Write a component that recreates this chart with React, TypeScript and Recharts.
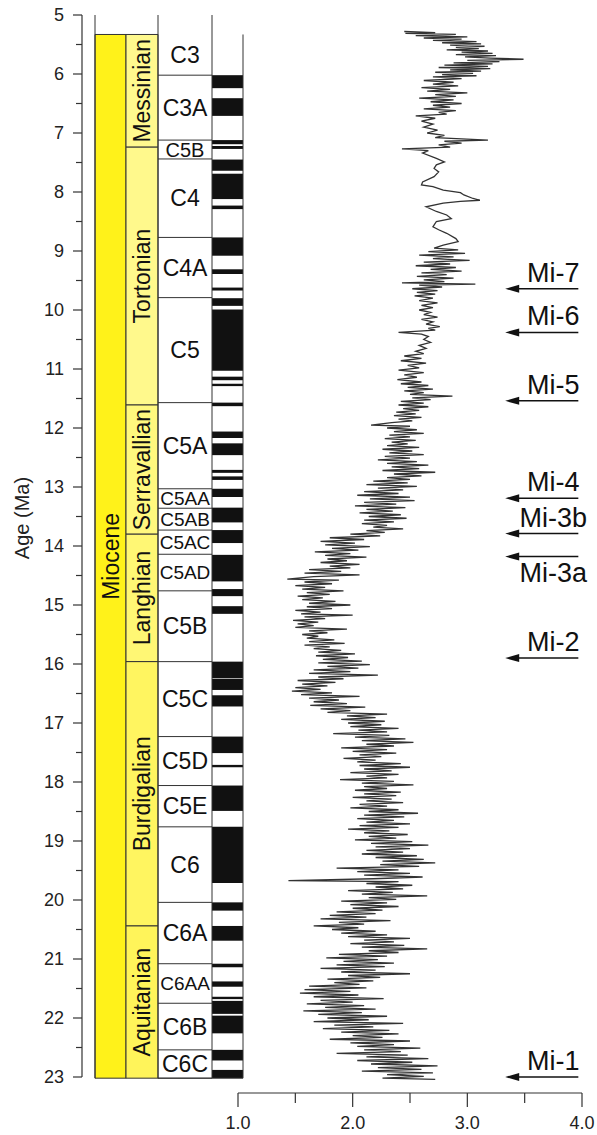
import React from "react";
import { ScatterChart, Scatter, XAxis, YAxis, ReferenceArea, ReferenceLine, Label } from "recharts";

const FONT = "'Liberation Sans', Arial, sans-serif";
const W = 597;
const H = 1135;

// ---- axes ----
const AGE_MIN = 5;
const AGE_MAX = 23;
const ageTicks = [
  5, 5.5, 6, 6.5, 7, 7.5, 8, 8.5, 9, 9.5, 10, 10.5, 11, 11.5, 12, 12.5, 13,
  13.5, 14, 14.5, 15, 15.5, 16, 16.5, 17, 17.5, 18, 18.5, 19, 19.5, 20, 20.5,
  21, 21.5, 22, 22.5, 23,
];
const D18O_MIN = 1;
const D18O_MAX = 4;
const d18oTicks = [1, 1.5, 2, 2.5, 3, 3.5, 4];

// ---- stratigraphy ----
const epochName = "Miocene";
const epochRange = [5.33, 23.02];

const stageNames = ["Messinian", "Tortonian", "Serravallian", "Langhian", "Burdigalian", "Aquitanian"];
const stageBounds = [5.33, 7.24, 11.61, 13.8, 15.96, 20.44, 23.02];
const stageColors = ["#fff98e", "#fff98c", "#fff87e", "#fff774", "#fff560", "#fff45a"];

const chronNames = [
  "C3", "C3A", "C5B", "C4", "C4A", "C5", "C5A", "C5AA", "C5AB", "C5AC", "C5AD",
  "C5B", "C5C", "C5D", "C5E", "C6", "C6A", "C6AA", "C6B", "C6C",
];
const chronBounds = [
  5.33, 6.02, 7.12, 7.44, 8.77, 9.79, 11.57, 13.03, 13.36, 13.73, 14.14, 14.76,
  15.96, 17.23, 18.06, 18.76, 20.04, 21.08, 21.75, 22.54, 23.02,
];
const smallChrons = ["C5AA", "C5AB", "C5AC", "C5AD", "C6AA"];

// normal polarity (black) intervals, Ma
const normalPolarity: [number, number][] = [
  [6.02, 6.24], [6.41, 6.71], [7.12, 7.19], [7.22, 7.27], [7.45, 7.64], [7.69, 8.12],
  [8.23, 8.29], [8.77, 9.08], [9.31, 9.39], [9.62, 9.67], [9.8, 9.93], [9.99, 11.03],
  [11.13, 11.19], [11.25, 11.29], [11.57, 11.63], [12.06, 12.17], [12.26, 12.46],
  [12.71, 12.76], [12.82, 12.88], [13.03, 13.17], [13.35, 13.6], [13.73, 13.95],
  [14.15, 14.6], [14.73, 14.85], [15.02, 15.15], [15.96, 16.24], [16.25, 16.44],
  [16.53, 16.72], [17.23, 17.51], [17.71, 17.75], [18.06, 18.49], [18.76, 19.71],
  [20.04, 20.18], [20.44, 20.69], [21.08, 21.14], [21.38, 21.47], [21.64, 21.68],
  [21.71, 21.93], [21.96, 22.26], [22.54, 22.72], [22.88, 23.02],
];

// ---- glaciation events ----
const miNames = ["Mi-7", "Mi-6", "Mi-5", "Mi-4", "Mi-3b", "Mi-3a", "Mi-2", "Mi-1"];
const miAges = [9.64, 10.38, 11.54, 13.19, 13.79, 14.18, 15.9, 23.0];
const labelsBelow = ["Mi-3a"];

// ---- benthic d18O record [age Ma, d18O permil] ----
const messinianCurve: [number, number][] = [
  [5.28, 2.45], [5.3, 2.72], [5.31, 2.46], [5.33, 2.9], [5.35, 2.55], [5.37, 3.0], [5.39, 2.62],
  [5.41, 2.95], [5.43, 2.7], [5.45, 3.08], [5.47, 2.78], [5.49, 3.12], [5.51, 2.85], [5.53, 3.15],
  [5.55, 2.9], [5.57, 3.1], [5.59, 2.82], [5.61, 3.18], [5.63, 2.95], [5.65, 3.22], [5.67, 2.9],
  [5.69, 3.25], [5.71, 2.98], [5.73, 3.2], [5.75, 3.49], [5.77, 3.0], [5.79, 3.28], [5.81, 2.88],
  [5.83, 3.22], [5.85, 2.8], [5.87, 3.18], [5.89, 2.75], [5.91, 3.2], [5.93, 2.85], [5.95, 3.12],
  [5.97, 2.72], [5.99, 3.05], [6.01, 2.78], [6.03, 3.08], [6.05, 2.7], [6.08, 2.95], [6.11, 2.62],
  [6.14, 2.88], [6.17, 2.7], [6.2, 2.92], [6.23, 2.6], [6.26, 2.85], [6.29, 2.65], [6.32, 3.0],
  [6.35, 2.72], [6.38, 2.9], [6.41, 2.58], [6.44, 2.88], [6.47, 2.68], [6.5, 2.95], [6.53, 2.7],
  [6.56, 2.85], [6.59, 2.62], [6.62, 2.9], [6.65, 2.75], [6.68, 2.82], [6.71, 2.55], [6.75, 2.72],
  [6.8, 2.6], [6.85, 2.7], [6.9, 2.62], [6.95, 2.74], [7.0, 2.65], [7.04, 2.8], [7.08, 2.72],
  [7.12, 3.18], [7.14, 2.8], [7.17, 2.95], [7.2, 2.75], [7.24, 2.85],
];

const tortonianCurve: [number, number][] = [
  [7.27, 2.43], [7.3, 2.66], [7.34, 2.61], [7.43, 2.73], [7.49, 2.8], [7.54, 2.73], [7.6, 2.71],
  [7.66, 2.75], [7.74, 2.71], [7.83, 2.61], [7.88, 2.6], [7.91, 2.7], [7.97, 2.79], [8.01, 2.94],
  [8.05, 2.97], [8.11, 3.05], [8.14, 3.11], [8.16, 2.94], [8.19, 2.79], [8.25, 2.64], [8.33, 2.73],
  [8.39, 2.82], [8.45, 2.86], [8.5, 2.73], [8.59, 2.7], [8.64, 2.75], [8.7, 2.82], [8.79, 2.9],
  [8.84, 2.92], [8.9, 2.79], [8.95, 2.71], [8.98, 2.92], [9.01, 2.66], [9.04, 2.98], [9.07, 2.58],
  [9.1, 2.88], [9.13, 2.7], [9.16, 3.02], [9.19, 2.62], [9.22, 2.85], [9.25, 2.55], [9.28, 2.9],
  [9.31, 2.68], [9.34, 2.95], [9.37, 2.6], [9.4, 2.82], [9.43, 2.56], [9.46, 2.88], [9.49, 2.62],
  [9.52, 2.8], [9.54, 2.43], [9.56, 3.07], [9.58, 2.58], [9.61, 2.78], [9.64, 2.52], [9.67, 2.74],
  [9.7, 2.56], [9.73, 2.72], [9.76, 2.54], [9.8, 2.7], [9.84, 2.58], [9.88, 2.74], [9.92, 2.6],
  [9.96, 2.7], [10.0, 2.58], [10.04, 2.68], [10.08, 2.62], [10.12, 2.74], [10.16, 2.6], [10.2, 2.7],
  [10.24, 2.64], [10.28, 2.76], [10.31, 2.66], [10.34, 2.72], [10.38, 2.4], [10.41, 2.6],
  [10.45, 2.66], [10.5, 2.62], [10.55, 2.68], [10.6, 2.58], [10.65, 2.64], [10.7, 2.55],
  [10.74, 2.62], [10.78, 2.45], [10.82, 2.6], [10.86, 2.42], [10.9, 2.64], [10.94, 2.48],
  [10.98, 2.58], [11.02, 2.4], [11.06, 2.62], [11.1, 2.45], [11.14, 2.56], [11.18, 2.39],
  [11.22, 2.6], [11.25, 2.42], [11.28, 2.66], [11.31, 2.48], [11.34, 2.7], [11.37, 2.45],
  [11.4, 2.62], [11.43, 2.5], [11.46, 2.87], [11.49, 2.52], [11.52, 2.68], [11.55, 2.42], [11.58, 2.62],
];

const serravallianCurve: [number, number][] = [
  [11.61, 2.4], [11.64, 2.66], [11.67, 2.44], [11.7, 2.58], [11.73, 2.38], [11.76, 2.55],
  [11.79, 2.36], [11.82, 2.6], [11.85, 2.4], [11.88, 2.52], [11.91, 2.34], [11.95, 2.16],
  [11.97, 2.5], [12.0, 2.3], [12.03, 2.56], [12.06, 2.36], [12.09, 2.62], [12.12, 2.32],
  [12.15, 2.5], [12.18, 2.28], [12.21, 2.55], [12.24, 2.34], [12.27, 2.48], [12.3, 2.3],
  [12.33, 2.58], [12.36, 2.26], [12.39, 2.52], [12.42, 2.32], [12.45, 2.62], [12.48, 2.28],
  [12.51, 2.5], [12.54, 2.22], [12.57, 2.56], [12.6, 2.3], [12.63, 2.66], [12.66, 2.34],
  [12.69, 2.58], [12.72, 2.26], [12.75, 2.72], [12.78, 2.36], [12.81, 2.6], [12.84, 2.3],
  [12.87, 2.5], [12.9, 2.18], [12.93, 2.48], [12.96, 2.12], [12.99, 2.56], [13.02, 2.22],
  [13.05, 2.44], [13.08, 2.1], [13.11, 2.4], [13.14, 2.04], [13.17, 2.5], [13.2, 2.15],
  [13.23, 2.54], [13.26, 2.1], [13.29, 2.38], [13.32, 2.02], [13.35, 2.46], [13.38, 2.12],
  [13.41, 2.35], [13.44, 2.06], [13.47, 2.42], [13.5, 2.14], [13.53, 2.47], [13.56, 2.1],
  [13.59, 2.36], [13.62, 2.08], [13.65, 2.3], [13.68, 2.18], [13.71, 2.44], [13.74, 2.12],
  [13.77, 2.28], [13.8, 1.98],
];

const langhianCurve: [number, number][] = [
  [13.83, 2.24], [13.86, 1.8], [13.89, 2.1], [13.92, 1.72], [13.95, 2.02], [13.98, 1.76],
  [14.01, 2.15], [14.04, 1.82], [14.07, 2.05], [14.1, 1.67], [14.13, 1.98], [14.16, 1.76],
  [14.19, 2.12], [14.22, 1.78], [14.25, 1.95], [14.28, 1.72], [14.31, 2.06], [14.34, 1.8],
  [14.37, 1.98], [14.4, 1.62], [14.43, 1.9], [14.46, 1.58], [14.49, 2.06], [14.52, 1.66],
  [14.56, 1.43], [14.58, 1.88], [14.61, 1.58], [14.64, 1.82], [14.67, 1.5], [14.7, 1.76],
  [14.73, 1.56], [14.76, 1.92], [14.79, 1.6], [14.82, 1.8], [14.85, 1.52], [14.88, 1.74],
  [14.91, 1.56], [14.94, 1.85], [14.97, 1.62], [15.0, 1.98], [15.03, 1.6], [15.06, 1.82],
  [15.09, 1.5], [15.12, 1.72], [15.15, 1.55], [15.17, 2.0], [15.2, 1.58], [15.23, 1.76],
  [15.26, 1.48], [15.29, 1.7], [15.32, 1.52], [15.35, 1.66], [15.38, 1.5], [15.41, 1.95],
  [15.44, 1.62], [15.47, 1.78], [15.5, 1.56], [15.53, 1.7], [15.56, 1.6], [15.59, 1.84],
  [15.62, 1.62], [15.65, 1.93], [15.68, 1.58], [15.71, 1.8], [15.74, 1.66], [15.77, 1.9],
  [15.8, 1.7], [15.83, 2.02], [15.86, 1.68], [15.89, 1.96], [15.92, 1.74], [15.95, 2.08],
];

const burdigalianCurve: [number, number][] = [
  [15.98, 1.7], [16.01, 2.15], [16.04, 1.78], [16.07, 2.05], [16.1, 1.66], [16.13, 1.98],
  [16.16, 1.62], [16.19, 2.22], [16.22, 1.7], [16.25, 1.92], [16.28, 1.52], [16.31, 1.85],
  [16.34, 1.56], [16.37, 1.78], [16.4, 1.5], [16.43, 1.72], [16.46, 1.47], [16.49, 1.82],
  [16.52, 1.55], [16.55, 2.06], [16.58, 1.62], [16.61, 1.88], [16.64, 1.66], [16.67, 1.95],
  [16.7, 1.63], [16.73, 2.11], [16.76, 1.72], [16.79, 1.98], [16.82, 1.78], [16.85, 2.3],
  [16.88, 1.95], [16.91, 2.2], [16.94, 1.9], [16.97, 2.28], [17.0, 1.96], [17.03, 2.25],
  [17.06, 1.98], [17.09, 2.4], [17.12, 2.05], [17.15, 2.3], [17.18, 1.83], [17.21, 2.32],
  [17.24, 2.02], [17.27, 2.46], [17.3, 2.08], [17.33, 2.53], [17.36, 2.12], [17.39, 2.36],
  [17.42, 1.9], [17.45, 2.3], [17.48, 2.0], [17.51, 2.38], [17.54, 2.06], [17.57, 2.25],
  [17.6, 1.92], [17.63, 2.2], [17.66, 2.04], [17.69, 2.42], [17.72, 2.06], [17.75, 2.5],
  [17.78, 2.1], [17.81, 2.34], [17.84, 1.98], [17.87, 2.4], [17.9, 2.12], [17.93, 2.3],
  [17.96, 1.89], [17.99, 2.36], [18.02, 2.08], [18.05, 2.53], [18.08, 2.1], [18.11, 2.3],
  [18.14, 2.02], [18.17, 2.42], [18.2, 2.1], [18.23, 2.38], [18.26, 2.0], [18.29, 2.34],
  [18.32, 2.12], [18.35, 2.44], [18.38, 2.06], [18.41, 2.3], [18.44, 1.98], [18.47, 2.4],
  [18.5, 2.14], [18.53, 2.57], [18.56, 2.1], [18.59, 2.45], [18.62, 2.04], [18.65, 2.36],
  [18.68, 2.12], [18.71, 2.5], [18.74, 2.06], [18.77, 2.4], [18.8, 1.96], [18.83, 2.32],
  [18.86, 2.1], [18.89, 2.48], [18.92, 2.14], [18.95, 2.38], [18.98, 2.02], [19.01, 2.52],
  [19.04, 2.16], [19.07, 2.66], [19.1, 2.2], [19.13, 2.5], [19.16, 2.12], [19.19, 2.44],
  [19.22, 2.08], [19.25, 2.56], [19.28, 2.2], [19.31, 2.62], [19.34, 2.26], [19.37, 2.72],
  [19.4, 2.24], [19.43, 2.58], [19.46, 1.86], [19.49, 2.4], [19.52, 2.04], [19.55, 2.5],
  [19.58, 2.1], [19.61, 2.61], [19.64, 2.18], [19.67, 1.44], [19.69, 2.4], [19.72, 2.12],
  [19.75, 2.52], [19.78, 2.2], [19.81, 2.44], [19.84, 1.96], [19.87, 2.35], [19.9, 2.08],
  [19.93, 2.65], [19.96, 2.14], [19.99, 2.38], [20.02, 1.9], [20.05, 2.3], [20.08, 1.98],
  [20.11, 2.4], [20.14, 2.0], [20.17, 2.26], [20.2, 1.86], [20.23, 2.2], [20.26, 1.8],
  [20.29, 2.12], [20.32, 1.72], [20.35, 2.33], [20.38, 1.88], [20.41, 2.1],
];

const aquitanianCurve: [number, number][] = [
  [20.44, 1.66], [20.47, 2.05], [20.5, 1.82], [20.53, 2.2], [20.56, 1.9], [20.59, 2.3],
  [20.62, 1.96], [20.65, 2.5], [20.68, 2.1], [20.71, 2.36], [20.74, 1.98], [20.77, 2.45],
  [20.8, 2.08], [20.83, 2.65], [20.86, 2.14], [20.89, 2.4], [20.92, 1.88], [20.95, 2.3],
  [20.98, 1.77], [21.01, 2.22], [21.04, 1.92], [21.07, 2.36], [21.1, 1.86], [21.13, 2.28],
  [21.16, 1.72], [21.19, 2.2], [21.22, 1.9], [21.25, 2.5], [21.28, 1.96], [21.31, 2.24],
  [21.34, 1.78], [21.37, 2.18], [21.4, 1.84], [21.43, 2.06], [21.46, 1.62], [21.49, 2.12],
  [21.52, 1.58], [21.55, 1.98], [21.58, 1.54], [21.61, 2.05], [21.64, 1.66], [21.67, 2.27],
  [21.7, 1.72], [21.73, 2.0], [21.76, 1.6], [21.79, 2.1], [21.82, 1.76], [21.85, 2.2],
  [21.88, 1.57], [21.91, 2.08], [21.94, 1.7], [21.97, 2.3], [22.0, 1.78], [22.03, 2.14],
  [22.06, 1.66], [22.09, 2.44], [22.12, 1.84], [22.15, 2.18], [22.18, 1.74], [22.21, 2.32],
  [22.24, 1.9], [22.27, 2.4], [22.3, 2.0], [22.33, 2.26], [22.36, 1.8], [22.39, 2.5],
  [22.42, 1.98], [22.45, 2.36], [22.48, 2.04], [22.51, 2.59], [22.54, 2.1], [22.57, 2.42],
  [22.6, 1.86], [22.63, 2.48], [22.66, 2.12], [22.69, 2.66], [22.72, 2.04], [22.75, 2.52],
  [22.78, 2.16], [22.81, 2.74], [22.84, 2.22], [22.87, 2.6], [22.9, 2.08], [22.93, 2.7],
  [22.96, 2.3], [22.99, 2.62], [23.02, 2.26], [23.04, 2.72],
];

// ---- layout (px) ----
const PLOT_TOP = 15;
const AGE_AXIS_BOTTOM = 1077;
const X_AXIS_Y = 1093;
const Y_AXIS_X = 82;
const CURVE_LEFT = 238;
const CURVE_RIGHT = 582;
// column edges, px to the right of the age axis
const COL = { epoch: [13, 44], stage: [44, 76], chron: [76, 130], polarity: [130, 161] };
const ARROW_TIP = 3.33;
const ARROW_TAIL = 3.968;
const LABEL_X = 3.75;

const curve = [
  ...messinianCurve,
  ...tortonianCurve,
  ...serravallianCurve,
  ...langhianCurve,
  ...burdigalianCurve,
  ...aquitanianCurve,
].map(([age, d18o]) => ({ age, d18o }));

const events = miNames.map((name, i) => ({ name, age: miAges[i] }));

// chron boundaries are drawn as rules across the chron column
const chronBoundaryPoints = chronBounds.slice(1).map((age) => ({ age, col: COL.chron[0] }));

// age domain runs past 23 Ma so the d18O axis sits a little below the columns
const ageDomainMax =
  AGE_MAX + ((X_AXIS_Y - AGE_AXIS_BOTTOM) * (AGE_MAX - AGE_MIN)) / (AGE_AXIS_BOTTOM - PLOT_TOP);
// d18O axis covers 1.0-4.0 only between CURVE_LEFT and CURVE_RIGHT
const pxPerUnit = (CURVE_RIGHT - CURVE_LEFT) / (D18O_MAX - D18O_MIN);
const isoDomain = [
  D18O_MIN - (CURVE_LEFT - Y_AXIS_X) / pxPerUnit,
  D18O_MAX + (W - CURVE_RIGHT) / pxPerUnit,
];

const AgeTick = ({ x, y, payload }: any) => {
  const major = Number.isInteger(payload.value);
  const axisX = x + 17;
  return (
    <g>
      <line x1={axisX - (major ? 9 : 6)} x2={axisX} y1={y} y2={y} stroke="#333" strokeWidth={1.2} />
      {major && (
        <text x={x - 1} y={y} dy="0.36em" textAnchor="end" fontSize={18} fontFamily={FONT} fill="#222">
          {payload.value}
        </text>
      )}
    </g>
  );
};

const D18oTick = ({ x, y, payload }: any) => {
  const major = Number.isInteger(payload.value);
  const axisY = y - 22;
  return (
    <g>
      <line x1={x} x2={x} y1={axisY} y2={axisY + (major ? 14 : 10)} stroke="#333" strokeWidth={1.2} />
      {major && (
        <text x={x} y={axisY + 36} textAnchor="middle" fontSize={18} fontFamily={FONT} fill="#222">
          {payload.value.toFixed(1)}
        </text>
      )}
    </g>
  );
};

const ArrowHead = ({ cx, cy }: any) => <path d={`M${cx},${cy} l14,-4 l0,8 z`} fill="#111" />;

const EventLabel = ({ cx, cy, payload }: any) => (
  <text
    x={cx}
    y={labelsBelow.includes(payload.name) ? cy + 25 : cy - 7}
    textAnchor="middle"
    fontSize={27}
    fontFamily={FONT}
    fill="#111"
  >
    {payload.name}
  </text>
);

const ChronBoundary = ({ cx, cy }: any) => (
  <line x1={cx} x2={cx + COL.chron[1] - COL.chron[0]} y1={cy} y2={cy} stroke="#333" strokeWidth={1} />
);

const NoDot = () => <g />;

const labelStyle = { fontFamily: FONT, fill: "#111" };

const chronFontSize = (c: string, i: number) => (smallChrons.includes(c) ? 19 : i === 2 ? 20 : 23);

export default function App() {
  return (
    <div style={{ width: W, height: H, background: "#fff" }}>
      <style>{`body{margin:0}`}</style>
      <ScatterChart width={W} height={H} margin={{ top: PLOT_TOP, right: 0, bottom: 0, left: 0 }}>
        {/* invisible column axis: px to the right of the age axis */}
        <XAxis
          xAxisId="col"
          type="number"
          dataKey="col"
          domain={[0, W - Y_AXIS_X]}
          allowDataOverflow
          height={0}
          axisLine={false}
          tickLine={false}
          tick={false}
        />
        <XAxis
          xAxisId="iso"
          type="number"
          dataKey="d18o"
          domain={isoDomain}
          allowDataOverflow
          ticks={d18oTicks}
          interval={0}
          height={H - X_AXIS_Y}
          tickSize={14}
          tickMargin={8}
          axisLine={false}
          tickLine={false}
          tick={<D18oTick />}
        />
        <YAxis
          type="number"
          dataKey="age"
          domain={[AGE_MIN, ageDomainMax]}
          reversed
          allowDataOverflow
          ticks={ageTicks}
          interval={0}
          width={Y_AXIS_X}
          tickSize={9}
          tickMargin={8}
          axisLine={false}
          tickLine={false}
          tick={<AgeTick />}
        >
          <Label
            content={({ viewBox }: any) => (
              <text
                transform={`translate(${viewBox.x + 22},${viewBox.y + viewBox.height / 2 - 36}) rotate(-90)`}
                textAnchor="middle"
                dominantBaseline="central"
                fontSize={20}
                fontFamily={FONT}
                fill="#222"
              >
                Age (Ma)
              </text>
            )}
          />
        </YAxis>

        {/* epoch + stages */}
        <ReferenceArea
          xAxisId="col"
          x1={COL.epoch[0]}
          x2={COL.epoch[1]}
          y1={epochRange[0]}
          y2={epochRange[1]}
          fill="#fff21a"
          fillOpacity={1}
          stroke="#333"
          ifOverflow="visible"
          label={{ value: epochName, angle: -90, position: "center", fontSize: 23, ...labelStyle }}
        />
        {stageNames.map((s, i) => (
          <ReferenceArea
            key={s}
            xAxisId="col"
            x1={COL.stage[0]}
            x2={COL.stage[1]}
            y1={stageBounds[i]}
            y2={stageBounds[i + 1]}
            fill={stageColors[i]}
            fillOpacity={1}
            stroke="#333"
            ifOverflow="visible"
            label={{ value: s, angle: -90, position: "center", fontSize: 23, ...labelStyle }}
          />
        ))}

        {/* magnetic chrons */}
        {chronNames.map((c, i) => (
          <ReferenceArea
            key={`${c}-${i}`}
            xAxisId="col"
            x1={COL.chron[0]}
            x2={COL.chron[1]}
            y1={chronBounds[i]}
            y2={chronBounds[i + 1]}
            fill="#fff"
            fillOpacity={0}
            ifOverflow="visible"
            label={{ value: c, position: "center", fontSize: chronFontSize(c, i), ...labelStyle }}
          />
        ))}
        {normalPolarity.map(([a, b]) => (
          <ReferenceArea
            key={`p-${a}`}
            xAxisId="col"
            x1={COL.polarity[0]}
            x2={COL.polarity[1]}
            y1={a}
            y2={b}
            fill="#111"
            fillOpacity={1}
            ifOverflow="visible"
          />
        ))}
        {[
          [COL.epoch[0], AGE_MIN],
          [COL.chron[0], AGE_MIN],
          [COL.polarity[0], AGE_MIN],
          [COL.polarity[1], epochRange[0]],
        ].map(([x, top]) => (
          <ReferenceLine
            key={`v-${x}`}
            xAxisId="col"
            segment={[{ x, y: top }, { x, y: epochRange[1] }]}
            stroke="#333"
            ifOverflow="visible"
          />
        ))}
        <ReferenceLine
          xAxisId="col"
          segment={[{ x: COL.chron[0], y: epochRange[1] }, { x: COL.polarity[1], y: epochRange[1] }]}
          stroke="#333"
          ifOverflow="visible"
        />
        <Scatter
          xAxisId="col"
          data={chronBoundaryPoints}
          shape={<ChronBoundary />}
          isAnimationActive={false}
        />

        {/* axis lines */}
        <ReferenceLine
          xAxisId="col"
          segment={[{ x: 0, y: AGE_MIN }, { x: 0, y: AGE_MAX }]}
          stroke="#333"
          strokeWidth={1.2}
          ifOverflow="visible"
        />
        <ReferenceLine
          xAxisId="iso"
          segment={[{ x: D18O_MIN, y: ageDomainMax }, { x: D18O_MAX, y: ageDomainMax }]}
          stroke="#333"
          strokeWidth={1.2}
          ifOverflow="visible"
        />

        {/* d18O record */}
        <Scatter
          xAxisId="iso"
          data={curve}
          line={{ stroke: "#333", strokeWidth: 1.3 }}
          shape={<NoDot />}
          isAnimationActive={false}
        />

        {/* Mi events */}
        {events.map((e) => (
          <ReferenceLine
            key={`arrow-${e.name}`}
            xAxisId="iso"
            segment={[{ x: ARROW_TIP + 0.05, y: e.age }, { x: ARROW_TAIL, y: e.age }]}
            stroke="#111"
            strokeWidth={1.5}
            ifOverflow="visible"
          />
        ))}
        <Scatter
          xAxisId="iso"
          data={events.map((e) => ({ ...e, d18o: ARROW_TIP }))}
          shape={<ArrowHead />}
          isAnimationActive={false}
        />
        <Scatter
          xAxisId="iso"
          data={events.map((e) => ({ ...e, d18o: LABEL_X }))}
          shape={<EventLabel />}
          isAnimationActive={false}
        />
      </ScatterChart>
    </div>
  );
}
